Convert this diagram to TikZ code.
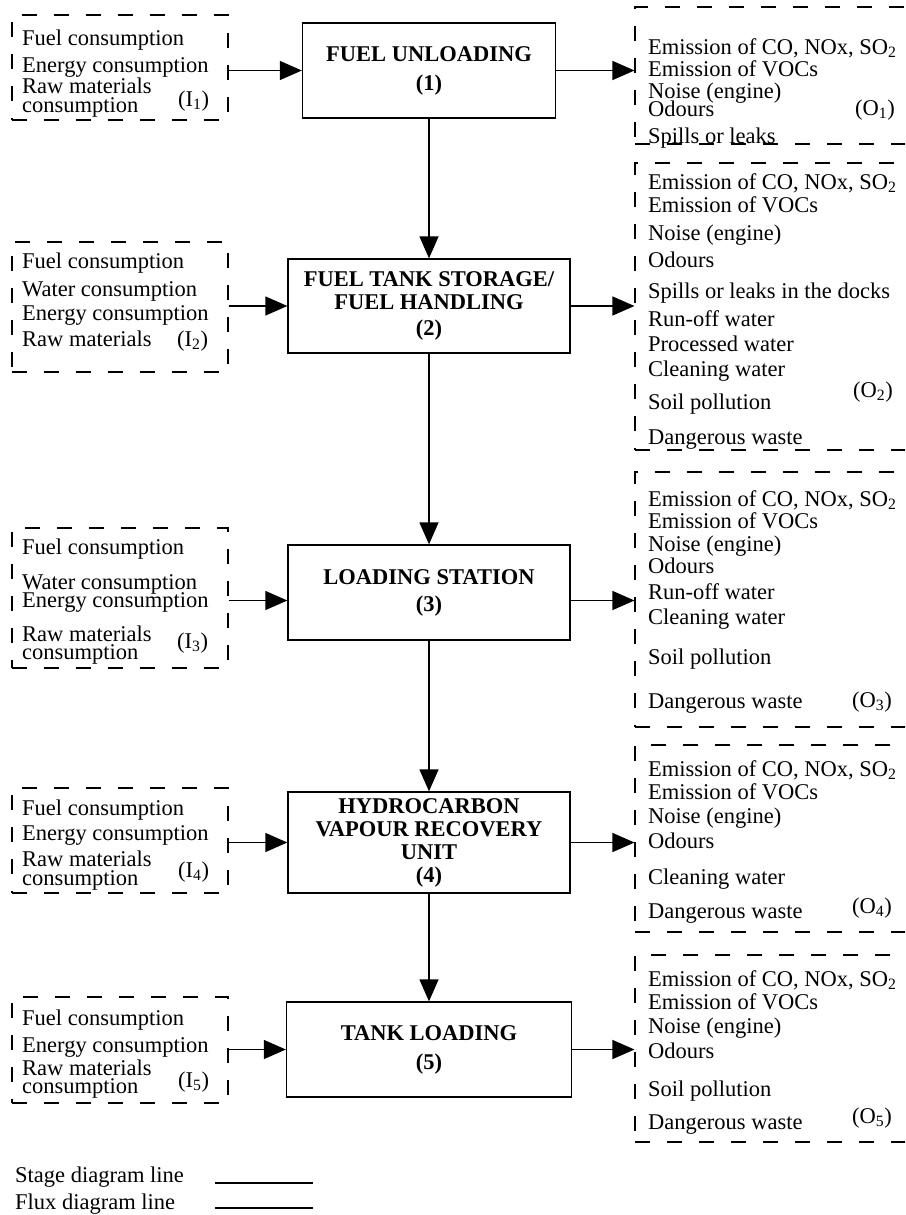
\documentclass[tikz,border=0pt]{standalone}
\usepackage{fontspec}
\setmainfont{Liberation Serif}
\usetikzlibrary{arrows.meta}
\newcommand\flowfont{\fontsize{22.5}{22}\selectfont}
\newcommand\stgfont{\fontsize{22.5}{23}\selectfont\bfseries}
\tikzset{
  stagebox/.style={draw, line width=1.3pt, align=center, inner sep=0pt, font=\stgfont},
  fluxbox/.style={draw, line width=1.1pt, dash pattern=on 15pt off 17pt, inner sep=0pt},
  items/.style={anchor=north west, align=left, inner sep=0pt, font=\flowfont},
  tag/.style={anchor=base west, inner sep=0pt, font=\flowfont},
  flux/.style={line width=1.3pt, -{Triangle[length=22pt,width=19pt]}},
  legline/.style={line width=1.2pt}
}
\begin{document}
\begin{tikzpicture}[x=1pt, y=-1pt]
    \clip (0,0) rectangle (905,1215);
    % Etapas
    \node[stagebox, minimum width=253pt, minimum height=95pt]  (st1) at (429,70.5)   {FUEL UNLOADING\\[6pt](1)};
    \node[stagebox, minimum width=282pt, minimum height=94pt]  (st2) at (429,306)    {FUEL TANK STORAGE/\\FUEL HANDLING\\[3pt](2)};
    \node[stagebox, minimum width=282pt, minimum height=95pt]  (st3) at (429,592.5)  {LOADING STATION\\[4pt](3)};
    \node[stagebox, minimum width=282pt, minimum height=101pt] (st4) at (429,842.5)  {HYDROCARBON\\VAPOUR RECOVERY\\UNIT\\(4)};
    \node[stagebox, minimum width=285pt, minimum height=95pt]  (st5) at (429,1049.5) {TANK LOADING\\[6pt](5)};
    % Entradas
    \node[fluxbox, minimum width=216pt, minimum height=105pt] (in1) at (120,67.5)  {};
    \node[fluxbox, minimum width=216pt, minimum height=130pt] (in2) at (120,307)   {};
    \node[fluxbox, minimum width=216pt, minimum height=140pt] (in3) at (120,598)   {};
    \node[fluxbox, minimum width=216pt, minimum height=105pt] (in4) at (120,840.5) {};
    \node[fluxbox, minimum width=216pt, minimum height=106pt] (in5) at (120,1050)  {};
    \node[items] (in1t) at (22,30)   {Fuel consumption\\[5pt]Energy consumption\\[-1pt]Raw materials\\[-3pt]consumption};
    \node[items] (in2t) at (22,253)  {Fuel consumption\\[6pt]Water consumption\\[2pt]Energy consumption\\[4pt]Raw materials};
    \node[items] (in3t) at (22,539)  {Fuel consumption\\[13pt]Water consumption\\[-4pt]Energy consumption\\[12pt]Raw materials\\[-4pt]consumption};
    \node[items] (in4t) at (22,800)  {Fuel consumption\\[3pt]Energy consumption\\[4pt]Raw materials\\[-3pt]consumption};
    \node[items] (in5t) at (22,1010) {Fuel consumption\\[5pt]Energy consumption\\[1pt]Raw materials\\[-4pt]consumption};
    \node[tag] (in1l) at (178,106)  {(I\textsubscript{1})};
    \node[tag] (in2l) at (177,346)  {(I\textsubscript{2})};
    \node[tag] (in3l) at (177,648)  {(I\textsubscript{3})};
    \node[tag] (in4l) at (178,877)  {(I\textsubscript{4})};
    \node[tag] (in5l) at (178,1087) {(I\textsubscript{5})};
    % Salidas
    \node[fluxbox, minimum width=290pt, minimum height=137pt] (out1) at (780,75.5)   {};
    \node[fluxbox, minimum width=290pt, minimum height=287pt] (out2) at (780,306.5)  {};
    \node[fluxbox, minimum width=290pt, minimum height=255pt] (out3) at (780,599.5)  {};
    \node[fluxbox, minimum width=290pt, minimum height=187pt] (out4) at (780,838.5)  {};
    \node[fluxbox, minimum width=290pt, minimum height=187pt] (out5) at (780,1048.5) {};
    \node[items] (out1t) at (648,38)  {Emission of CO, NOx, SO\textsubscript{2}\\Emission of VOCs\\Noise (engine)\\[-4pt]Odours\\[5pt]Spills or leaks};
    \node[items] (out2t) at (648,173) {Emission of CO, NOx, SO\textsubscript{2}\\[1pt]Emission of VOCs\\[6pt]Noise (engine)\\[5pt]Odours\\[9pt]Spills or leaks in the docks\\[6pt]Run-off water\\[3pt]Processed water\\[3pt]Cleaning water\\[11pt]Soil pollution\\[13pt]Dangerous waste};
    \node[items] (out3t) at (648,490) {Emission of CO, NOx, SO\textsubscript{2}\\Emission of VOCs\\[1pt]Noise (engine)\\Odours\\[4pt]Run-off water\\[3pt]Cleaning water\\[18pt]Soil pollution\\[22pt]Dangerous waste};
    \node[items] (out4t) at (648,760) {Emission of CO, NOx, SO\textsubscript{2}\\[1pt]Emission of VOCs\\[2pt]Noise (engine)\\[3pt]Odours\\[14pt]Cleaning water\\[12pt]Dangerous waste};
    \node[items] (out5t) at (648,970) {Emission of CO, NOx, SO\textsubscript{2}\\[1pt]Emission of VOCs\\[2pt]Noise (engine)\\[3pt]Odours\\[16pt]Soil pollution\\[11pt]Dangerous waste};
    \node[tag] (out1l) at (855,115)  {(O\textsubscript{1})};
    \node[tag] (out2l) at (853,397)  {(O\textsubscript{2})};
    \node[tag] (out3l) at (852,707)  {(O\textsubscript{3})};
    \node[tag] (out4l) at (852,913)  {(O\textsubscript{4})};
    \node[tag] (out5l) at (852,1123) {(O\textsubscript{5})};
    % Flechas entre etapas
    \draw[flux] (st1) -- (st2);
    \draw[flux] (st2) -- (st3);
    \draw[flux] (st3) -- (st4);
    \draw[flux] (st4) -- (st5);
    % Flechas de entrada y salida
    \coordinate (a3) at ([yshift=-8pt]st3.west);
    \coordinate (b3) at ([yshift=-8pt]st3.east);
    \draw[flux] (st1.west -| in1.east) -- (st1.west);
    \draw[flux] (st2.west -| in2.east) -- (st2.west);
    \draw[flux] (a3 -| in3.east) -- (a3);
    \draw[flux] (st4.west -| in4.east) -- (st4.west);
    \draw[flux] (st5.west -| in5.east) -- (st5.west);
    \draw[flux] (st1.east) -- (st1.east -| out1.west);
    \draw[flux] (st2.east) -- (st2.east -| out2.west);
    \draw[flux] (b3) -- (b3 -| out3.west);
    \draw[flux] (st4.east) -- (st4.east -| out4.west);
    \draw[flux] (st5.east) -- (st5.east -| out5.west);
    % Leyenda
    \node[tag] (lgstage) at (15,1182) {Stage diagram line};
    \node[tag] (lgflux)  at (15,1209) {Flux diagram line};
    \coordinate (ls1) at (215,1183); \coordinate (ls2) at (313,1183);
    \coordinate (lf1) at (215,1208); \coordinate (lf2) at (313,1208);
    \draw[legline] (ls1) -- (ls2);
    \draw[legline] (lf1) -- (lf2);
\end{tikzpicture}
\end{document}
